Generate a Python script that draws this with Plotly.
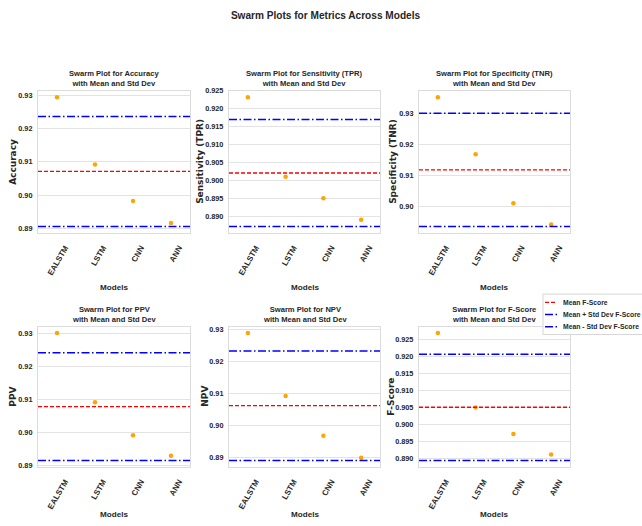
import numpy as np
import plotly.graph_objects as go

# Model order on every x axis
models = ["EALSTM", "LSTM", "CNN", "ANN"]

# Per-model scores for each metric
accuracy = [0.9295, 0.9092, 0.8982, 0.8916]
sensitivity = [0.9232, 0.9010, 0.8950, 0.8890]
specificity = [0.9352, 0.9168, 0.9010, 0.8942]
ppv = [0.9302, 0.9092, 0.8992, 0.8930]
npv = [0.9288, 0.9092, 0.8969, 0.8900]
f_score = [0.9268, 0.9050, 0.8972, 0.8912]

metric_names = ["Accuracy", "Sensitivity (TPR)", "Specificity (TNR)", "PPV", "NPV", "F-Score"]
metric_values = [accuracy, sensitivity, specificity, ppv, npv, f_score]
tick_steps = [0.01, 0.005, 0.01, 0.01, 0.01, 0.005]
tick_formats = [".2f", ".3f", ".2f", ".2f", ".2f", ".3f"]

W, H = 642, 526
col_px = [(38, 190), (229, 380), (419, 570)]
row_px = [(88, 232), (327, 469)]
ytitle_x = [[13, 200, 393], [13, 205, 391]]

NARROW = "Liberation Sans, Arial, sans-serif"
WIDE = "DejaVu Sans, sans-serif"
TEXT = "#262626"


def px_x(v):
    return v / W


def px_y(v):
    return 1 - v / H


fig = go.Figure()
annotations = []
shapes = []

for i, (name, vals) in enumerate(zip(metric_names, metric_values)):
    r, c = divmod(i, 3)
    n = i + 1
    xa = "x" if n == 1 else f"x{n}"
    ya = "y" if n == 1 else f"y{n}"
    xkey = "xaxis" if n == 1 else f"xaxis{n}"
    ykey = "yaxis" if n == 1 else f"yaxis{n}"

    arr = np.array(vals)
    mean = arr.mean()
    std = arr.std(ddof=1)
    upper, lower = mean + std, mean - std

    fig.add_trace(go.Scatter(
        x=models, y=vals, mode="markers", xaxis=xa, yaxis=ya,
        marker=dict(color="#FFA500", size=4.5, line=dict(width=0)),
        showlegend=False, hoverinfo="x+y",
    ))

    for yv, color, dash, w in [
        (mean, "red", "4px,2px", 1.3),
        (upper, "blue", "8px,2.5px,1.5px,2.5px", 1.5),
        (lower, "blue", "8px,2.5px,1.5px,2.5px", 1.5),
    ]:
        shapes.append(dict(
            type="line", xref=f"{xa} domain", yref=ya, x0=0, x1=1, y0=yv, y1=yv,
            line=dict(color=color, width=w, dash=dash), layer="above",
        ))

    lo = min(arr.min(), lower)
    hi = max(arr.max(), upper)
    pad = 0.05 * (hi - lo)

    x0, x1 = col_px[c]
    y0, y1 = row_px[r]
    fig.layout[xkey] = dict(
        domain=[px_x(x0), px_x(x1)], anchor=ya, type="category",
        categoryorder="array", categoryarray=models, range=[-0.5, 3.5],
        showgrid=False, zeroline=False, showline=True, mirror=True,
        linecolor="#dcdcdc", linewidth=1.2, ticks="",
        tickangle=-60, ticklabelshift=8, ticklabelstandoff=6,
        tickfont=dict(family=NARROW, size=8, color=TEXT, weight="bold"),
    )
    fig.layout[ykey] = dict(
        domain=[px_y(y1), px_y(y0)], anchor=xa,
        range=[lo - pad, hi + pad], dtick=tick_steps[i], tickformat=tick_formats[i],
        showgrid=True, gridcolor="#e3e3e3", gridwidth=1.2, zeroline=False,
        showline=True, mirror=True, linecolor="#dcdcdc", linewidth=1.2, ticks="",
        ticklabelstandoff=3,
        tickfont=dict(family=NARROW, size=7.3, color=TEXT, weight="bold"),
    )

    cx = px_x((x0 + x1) / 2)
    # subplot title
    annotations.append(dict(
        text=f"Swarm Plot for {name}<br>with Mean and Std Dev",
        x=cx, y=px_y(y0 - 12.5), xref="paper", yref="paper",
        xanchor="center", yanchor="middle", showarrow=False,
        font=dict(family=NARROW, size=7.6, color=TEXT, weight="bold"),
    ))
    # y axis title
    annotations.append(dict(
        text=name, textangle=-90,
        x=px_x(ytitle_x[r][c]), y=px_y((y0 + y1) / 2), xref="paper", yref="paper",
        xanchor="center", yanchor="middle", showarrow=False,
        font=dict(family=WIDE, size=9, color=TEXT, weight="bold"),
    ))
    # x axis title
    annotations.append(dict(
        text="Models", x=cx, y=px_y(y1 + 55 if r == 0 else y1 + 48.5),
        xref="paper", yref="paper", xanchor="center", yanchor="middle", showarrow=False,
        font=dict(family=NARROW, size=8.1, color=TEXT, weight="bold"),
    ))

# legend box for the F-Score reference lines
lg_left, lg_top, lg_bottom = 543, 294, 335
shapes.append(dict(
    type="rect", xref="paper", yref="paper",
    x0=px_x(lg_left), x1=px_x(660), y0=px_y(lg_bottom), y1=px_y(lg_top),
    line=dict(color="#d6d6d6", width=1), fillcolor="white", layer="above",
))
legend_items = [
    ("Mean F-Score", "red", "4px,2px", 1.3),
    ("Mean + Std Dev F-Score", "blue", "8px,2.5px,1.5px,2.5px", 1.5),
    ("Mean - Std Dev F-Score", "blue", "8px,2.5px,1.5px,2.5px", 1.5),
]
for k, (label, color, dash, w) in enumerate(legend_items):
    yy = 302.3 + 12.35 * k
    shapes.append(dict(
        type="line", xref="paper", yref="paper",
        x0=px_x(545), x1=px_x(557), y0=px_y(yy), y1=px_y(yy),
        line=dict(color=color, width=w, dash=dash), layer="above",
    ))
    annotations.append(dict(
        text=label, x=px_x(560.5), y=px_y(yy), xref="paper", yref="paper",
        xanchor="left", yanchor="middle", showarrow=False,
        font=dict(family=NARROW, size=6.8, color=TEXT, weight="bold"),
    ))

fig.update_layout(
    width=W, height=H,
    margin=dict(l=0, r=0, t=0, b=0),
    paper_bgcolor="white", plot_bgcolor="white",
    title=dict(
        text="Swarm Plots for Metrics Across Models",
        x=0.507, xanchor="center", y=px_y(15.5), yanchor="middle",
        font=dict(family=NARROW, size=10.1, color=TEXT, weight="bold"),
    ),
    annotations=annotations, shapes=shapes, showlegend=False,
)

fig.write_html("out.html")
